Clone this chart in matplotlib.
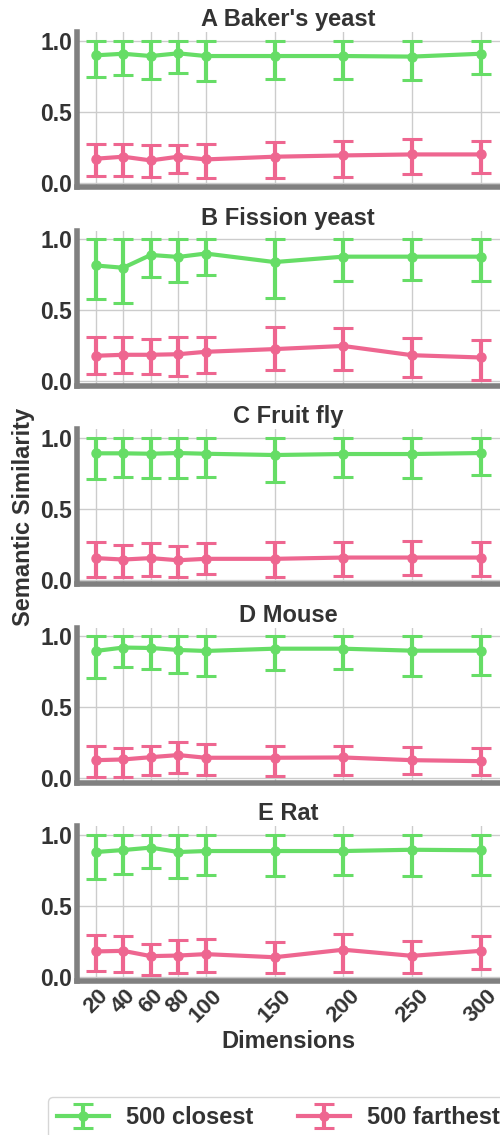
import matplotlib.pyplot as plt
import numpy as np

# Dimensiones del embedding
dims = [20, 40, 60, 80, 100, 150, 200, 250, 300]
titles = ["A Baker's yeast", "B Fission yeast", "C Fruit fly", "D Mouse", "E Rat"]

# 500 mas cercanos: media y limite inferior (el superior llega a 1.0)
close_mean = [
    [0.896, 0.907, 0.891, 0.910, 0.891, 0.891, 0.891, 0.887, 0.907],
    [0.814, 0.798, 0.888, 0.874, 0.898, 0.838, 0.876, 0.876, 0.876],
    [0.889, 0.889, 0.886, 0.891, 0.886, 0.877, 0.884, 0.884, 0.891],
    [0.895, 0.919, 0.916, 0.902, 0.895, 0.911, 0.911, 0.897, 0.897],
    [0.877, 0.891, 0.908, 0.877, 0.884, 0.884, 0.884, 0.893, 0.889],
]
close_low = [
    [0.741, 0.759, 0.729, 0.771, 0.718, 0.729, 0.729, 0.722, 0.762],
    [0.576, 0.548, 0.733, 0.698, 0.748, 0.586, 0.705, 0.712, 0.705],
    [0.711, 0.723, 0.716, 0.716, 0.723, 0.690, 0.723, 0.716, 0.735],
    [0.703, 0.780, 0.770, 0.739, 0.718, 0.758, 0.770, 0.718, 0.725],
    [0.687, 0.723, 0.763, 0.694, 0.713, 0.709, 0.713, 0.706, 0.718],
]
close_high = [[1.0] * 9 for _ in range(5)]

# 500 mas lejanos
far_mean = [
    [0.169, 0.183, 0.157, 0.183, 0.164, 0.183, 0.192, 0.199, 0.199],
    [0.179, 0.186, 0.186, 0.190, 0.207, 0.226, 0.248, 0.183, 0.167],
    [0.152, 0.142, 0.152, 0.137, 0.147, 0.147, 0.156, 0.156, 0.156],
    [0.127, 0.132, 0.148, 0.163, 0.144, 0.144, 0.146, 0.127, 0.120],
    [0.178, 0.182, 0.145, 0.149, 0.159, 0.137, 0.190, 0.147, 0.182],
]
far_low = [
    [0.046, 0.046, 0.039, 0.065, 0.035, 0.035, 0.039, 0.058, 0.065],
    [0.048, 0.055, 0.048, 0.036, 0.055, 0.079, 0.079, 0.031, 0.012],
    [0.017, 0.017, 0.024, 0.019, 0.038, 0.021, 0.026, 0.031, 0.026],
    [0.007, 0.010, 0.024, 0.036, 0.024, 0.017, 0.022, 0.031, 0.024],
    [0.038, 0.031, 0.014, 0.028, 0.031, 0.026, 0.033, 0.024, 0.055],
]
far_high = [
    [0.271, 0.275, 0.264, 0.266, 0.271, 0.285, 0.292, 0.308, 0.292],
    [0.310, 0.312, 0.300, 0.312, 0.312, 0.379, 0.376, 0.307, 0.288],
    [0.263, 0.246, 0.258, 0.239, 0.256, 0.263, 0.265, 0.270, 0.263],
    [0.225, 0.213, 0.227, 0.256, 0.239, 0.230, 0.230, 0.218, 0.213],
    [0.294, 0.287, 0.230, 0.261, 0.265, 0.244, 0.301, 0.249, 0.289],
]

green = '#66dd66'
pink = '#ee6690'
text_color = '#333333'

plt.rcParams['font.family'] = ['Liberation Sans', 'DejaVu Sans']
plt.rcParams['font.weight'] = 'bold'
plt.rcParams['text.color'] = text_color
plt.rcParams['axes.labelcolor'] = text_color
plt.rcParams['xtick.color'] = text_color
plt.rcParams['ytick.color'] = text_color

W, H = 500, 1135
fig = plt.figure(figsize=(W / 100, H / 100), dpi=100)

left = 76.5 / W
width = 1 - left
height = 155 / H


def err(mean, low, high):
    m = np.array(mean)
    return m, np.vstack([m - np.array(low), np.array(high) - m])


axes = []
for i in range(5):
    top = 32 + i * 198.5
    ax = fig.add_axes([left, 1 - (top + 155) / H, width, height])
    axes.append(ax)

    m, e = err(close_mean[i], close_low[i], close_high[i])
    ax.errorbar(dims, m, yerr=e, color=green, lw=3, marker='o', ms=6.5,
                capsize=7, capthick=2.2, elinewidth=3, label='500 closest')
    m, e = err(far_mean[i], far_low[i], far_high[i])
    ax.errorbar(dims, m, yerr=e, color=pink, lw=3, marker='o', ms=6.5,
                capsize=7, capthick=2.2, elinewidth=3, label='500 farthest')

    ax.set_ylim(-0.03, 1.06)
    ax.set_yticks([0.0, 0.5, 1.0])
    ax.set_xticks(dims)
    ax.grid(True, color='#cccccc', lw=1)
    ax.set_axisbelow(True)
    ax.set_title(titles[i], fontsize=17, fontweight='bold', pad=4)
    for s in ['top', 'right']:
        ax.spines[s].set_visible(False)
    for s in ['left', 'bottom']:
        ax.spines[s].set_color('#808080')
        ax.spines[s].set_linewidth(4)
    ax.tick_params(length=0, labelsize=16.5, pad=3)
    for lab in ax.get_yticklabels():
        lab.set_fontweight('bold')
    if i < 4:
        ax.set_xticklabels([])
    else:
        ax.set_xticklabels([str(d) for d in dims], rotation=45,
                           fontweight='bold', fontsize=16)
        ax.set_xlabel('Dimensions', fontsize=17, fontweight='bold', labelpad=3)

fig.text(24 / W, 1 - 517 / H, 'Semantic Similarity', rotation=90,
         ha='center', va='center', fontsize=17, fontweight='bold')

handles, labels = axes[0].get_legend_handles_labels()
fig.legend(handles, labels, loc='upper left', ncol=2,
           bbox_to_anchor=(48 / W, 1 - 1097 / H), fontsize=17,
           frameon=True, edgecolor='#cccccc', borderpad=0.4,
           borderaxespad=0, handlelength=2.2, handletextpad=0.7,
           columnspacing=1.9)

plt.savefig('out.png', dpi=100)
plt.close()
